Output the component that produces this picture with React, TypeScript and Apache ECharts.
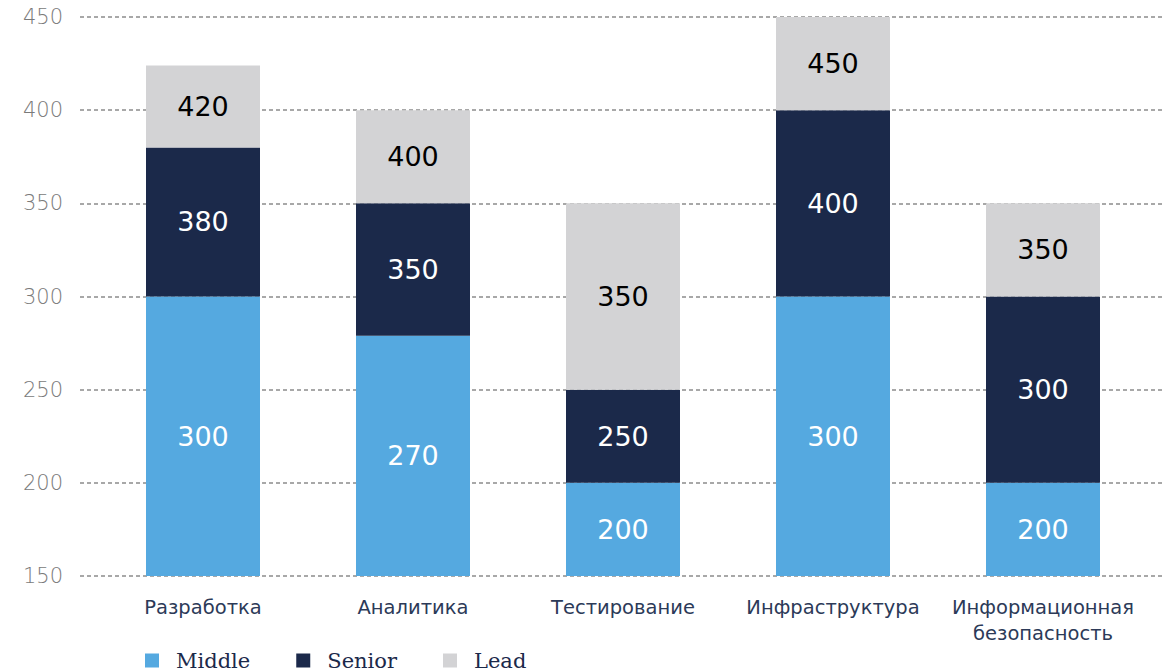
import React, { useEffect, useRef } from "react";
import * as echarts from "echarts";

const categories = [
  "Разработка",
  "Аналитика",
  "Тестирование",
  "Инфраструктура",
  "Информационная\nбезопасность",
];
// Top of each segment as drawn on the value axis
const middleTop = [300, 279, 200, 300, 200];
const seniorTop = [380, 350, 250, 400, 300];
const leadTop = [424, 400, 350, 450, 350];
// Labels printed inside the segments
const middleLabels = [300, 270, 200, 300, 200];
const seniorLabels = [380, 350, 250, 400, 300];
const leadLabels = [420, 400, 350, 450, 350];

const yMin = 150;
const yMax = 450;
const yStep = 50;

const COLORS = { middle: "#55a9e0", senior: "#1b294a", lead: "#d3d3d5" };

export default function App() {
  const ref = useRef<HTMLDivElement>(null);
  useEffect(() => {
    if (!ref.current) return;
    const chart = echarts.init(ref.current, undefined, { renderer: "svg" });
    const base = categories.map(() => yMin);
    const mid = middleTop.map((v) => v - yMin);
    const sen = seniorTop.map((v, i) => v - middleTop[i]);
    const lead = leadTop.map((v, i) => v - seniorTop[i]);
    const labelFont = {
      fontFamily: "DejaVu Sans",
      fontSize: 27,
      fontWeight: 400 as any,
    };
    chart.setOption({
      animation: false,
      backgroundColor: "#ffffff",
      legend: {
        data: ["Middle", "Senior", "Lead"],
        left: 140,
        top: 645,
        icon: "rect",
        itemWidth: 14,
        itemHeight: 14,
        itemGap: 46,
        textStyle: {
          fontFamily: "DejaVu Serif",
          fontSize: 21,
          color: "#1b294a",
          padding: [0, 0, 0, 12],
        },
      },
      grid: [
        { left: 98, right: 27, top: 17, bottom: 95 },
        { left: 80, right: 12, top: 17, bottom: 95 },
      ],
      xAxis: [
        {
          type: "category",
          gridIndex: 0,
          data: categories,
          axisLine: { show: false },
          axisTick: { show: false },
          axisLabel: {
            interval: 0,
            fontFamily: "DejaVu Sans",
            fontSize: 19.5,
            color: "#2c3a58",
            margin: 18,
            lineHeight: 26,
          },
        },
        {
          type: "value",
          gridIndex: 1,
          show: false,
          min: 0,
          max: 1,
        },
      ],
      yAxis: [
        {
          type: "value",
          gridIndex: 0,
          min: yMin,
          max: yMax,
          interval: yStep,
          show: false,
          splitLine: { show: false },
        },
        {
          type: "value",
          gridIndex: 1,
          min: yMin,
          max: yMax,
          interval: yStep,
          axisLine: { show: false },
          axisTick: { show: false },
          axisLabel: {
            fontFamily: "DejaVu Sans",
            fontSize: 21,
            fontWeight: 300 as any,
            color: "#7a7a7a",
            margin: 17,
          },
          splitLine: {
            show: true,
            lineStyle: { color: "#8c8c8c", type: [4, 3], width: 1.5 },
          },
        },
      ],
      series: [
        {
          name: "base",
          type: "bar",
          stack: "s",
          xAxisIndex: 0,
          yAxisIndex: 0,
          data: base,
          barWidth: 114,
          itemStyle: { color: "transparent" },
          silent: true,
          clip: true,
        },
        {
          name: "Middle",
          type: "bar",
          stack: "s",
          xAxisIndex: 0,
          yAxisIndex: 0,
          data: mid,
          barWidth: 114,
          itemStyle: { color: COLORS.middle },
          label: {
            show: true,
            position: "inside",
            color: "#ffffff",
            ...labelFont,
            formatter: (p: any) => String(middleLabels[p.dataIndex]),
          },
        },
        {
          name: "Senior",
          type: "bar",
          stack: "s",
          xAxisIndex: 0,
          yAxisIndex: 0,
          data: sen,
          barWidth: 114,
          itemStyle: { color: COLORS.senior },
          label: {
            show: true,
            position: "inside",
            color: "#ffffff",
            ...labelFont,
            formatter: (p: any) => String(seniorLabels[p.dataIndex]),
          },
        },
        {
          name: "Lead",
          type: "bar",
          stack: "s",
          xAxisIndex: 0,
          yAxisIndex: 0,
          data: lead,
          barWidth: 114,
          itemStyle: { color: COLORS.lead },
          label: {
            show: true,
            position: "inside",
            color: "#000000",
            ...labelFont,
            formatter: (p: any) => String(leadLabels[p.dataIndex]),
          },
        },
      ],
    });
    return () => chart.dispose();
  }, []);
  return <div ref={ref} style={{ width: 1175, height: 671, position: "absolute", left: 0, top: 0 }} />;
}
